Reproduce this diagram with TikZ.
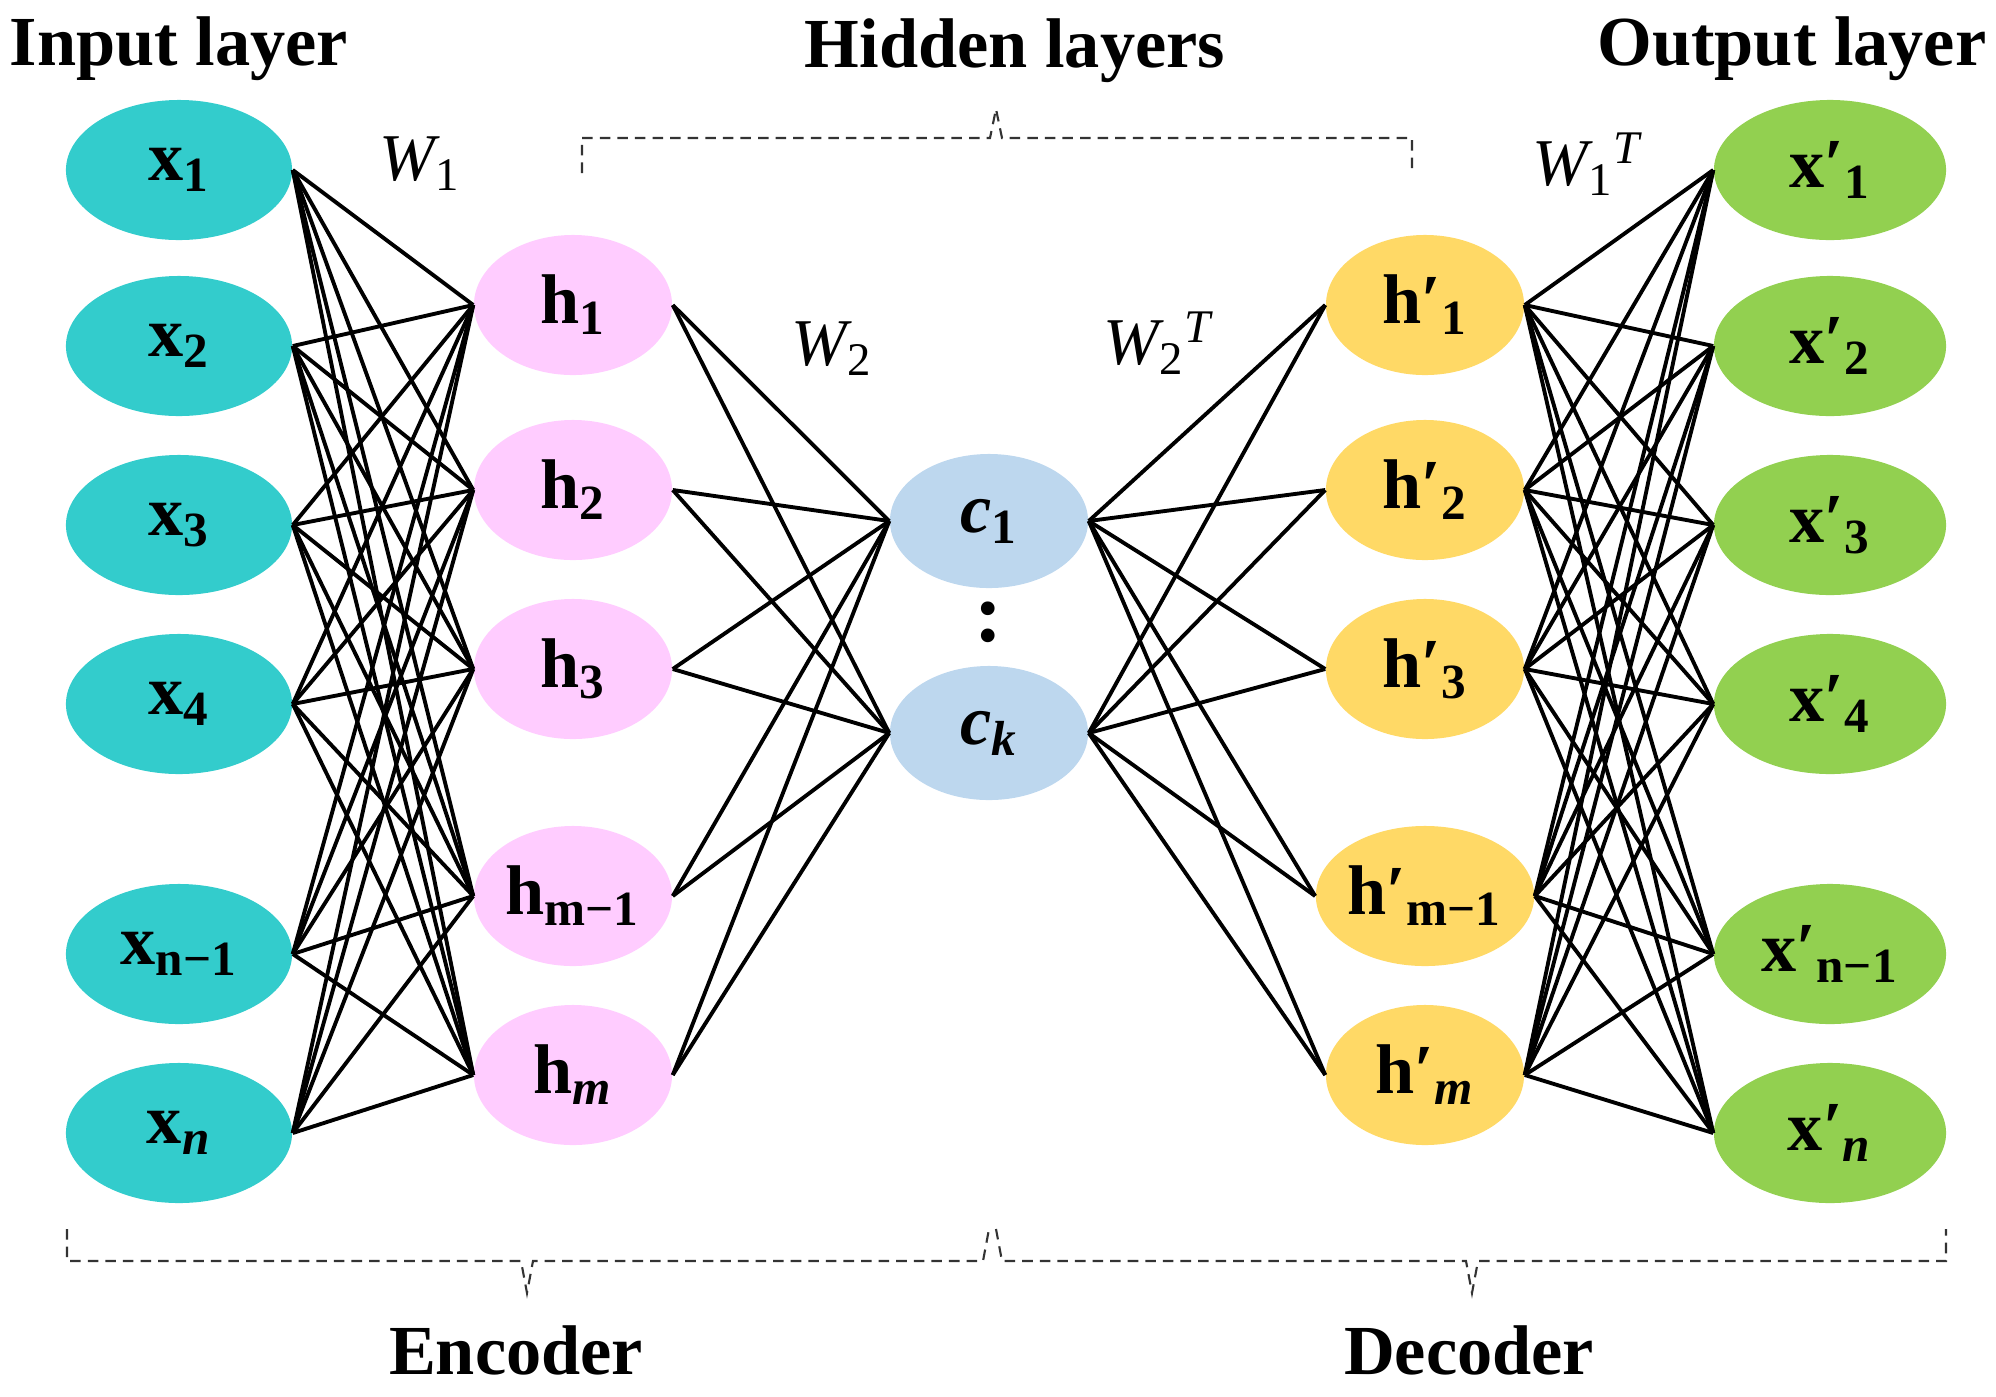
\documentclass[tikz,border=0pt]{standalone}
\usepackage{fontspec}
\setmainfont{Liberation Serif}
\usetikzlibrary{shapes.geometric}
\begin{document}
\begin{tikzpicture}[x=0.01cm,y=-0.01cm,
  nd/.style={ellipse,inner sep=0pt,font=\fontsize{20}{22}\selectfont\bfseries},
  nx/.style={nd,fill=cin,minimum width=2.26cm,minimum height=1.4cm},
  nh/.style={nd,fill=chid,minimum width=1.98cm,minimum height=1.4cm},
  nc/.style={nd,fill=ccode,minimum width=1.98cm,minimum height=1.34cm},
  nhp/.style={nd,fill=cdec,minimum width=1.98cm,minimum height=1.4cm},
  nxp/.style={nd,fill=cout,minimum width=2.32cm,minimum height=1.4cm},
  ttl/.style={font=\fontsize{20}{22}\selectfont\bfseries},
  wl/.style={font=\fontsize{19}{22}\selectfont\itshape},
  ed/.style={line width=1.1pt},
  br/.style={line width=0.6pt,dash pattern=on 3pt off 2pt,draw=black!80}]
\definecolor{cin}{HTML}{33CCCC}
\definecolor{chid}{HTML}{FFCCFF}
\definecolor{ccode}{HTML}{BDD7EE}
\definecolor{cdec}{HTML}{FFD966}
\definecolor{cout}{HTML}{92D050}
\useasboundingbox (0,0) rectangle (1996,1396);
\def\s#1{\textsubscript{\bfseries #1}}
% input
\node[nx] (x1) at (179,170) {x\s{1}};
\node[nx] (x2) at (179,346) {x\s{2}};
\node[nx] (x3) at (179,525) {x\s{3}};
\node[nx] (x4) at (179,704) {x\s{4}};
\node[nx] (x5) at (179,954) {x\s{n−1}};
\node[nx] (x6) at (179,1133) {x\s{\textit{n}}};
% hidden enc
\node[nh] (h1) at (573,305) {h\s{1}};
\node[nh] (h2) at (573,490) {h\s{2}};
\node[nh] (h3) at (573,669) {h\s{3}};
\node[nh] (h4) at (573,896) {h\s{m−1}};
\node[nh] (h5) at (573,1075) {h\s{\textit{m}}};
% code
\node[nc] (c1) at (989,521) {\textit{c}\s{1}};
\node[nc] (c2) at (989,733) {\textit{c}\s{\textit{k}}};
\node[font=\fontsize{24}{24}\selectfont\bfseries] (dots) at (989,622) {:};
% hidden dec
\node[nhp] (g1) at (1425,305) {h′\s{1}};
\node[nhp] (g2) at (1425,490) {h′\s{2}};
\node[nhp] (g3) at (1425,669) {h′\s{3}};
\node[nhp] (g4) at (1425,896) {h′\s{m−1}};
\node[nhp] (g5) at (1425,1075) {h′\s{\textit{m}}};
% output
\node[nxp] (y1) at (1830,170) {x′\s{1}};
\node[nxp] (y2) at (1830,346) {x′\s{2}};
\node[nxp] (y3) at (1830,525) {x′\s{3}};
\node[nxp] (y4) at (1830,704) {x′\s{4}};
\node[nxp] (y5) at (1830,954) {x′\s{n−1}};
\node[nxp] (y6) at (1830,1133) {x′\s{\textit{n}}};
% edges
\foreach \i in {1,...,6}{\foreach \j in {1,...,5}{
  \draw[ed] (x\i.east) -- (h\j.west);
  \draw[ed] (y\i.west) -- (g\j.east);}}
\foreach \j in {1,...,5}{\foreach \k in {1,2}{
  \draw[ed] (h\j.east) -- (c\k.west);
  \draw[ed] (g\j.west) -- (c\k.east);}}
% titles
\node[ttl] (t1) at (179,49) {Input layer};
\node[ttl] (t2) at (1015,51) {Hidden layers};
\node[ttl] (t3) at (1792,49) {Output layer};
\node[ttl] (t4) at (516,1350) {Encoder};
\node[ttl] (t5) at (1469,1350) {Decoder};
\node[wl] (w1) at (420,164) {W\textsubscript{\upshape 1}};
\node[wl] (w2) at (832,349) {W\textsubscript{\upshape 2}};
\node[wl] (w3) at (1158,343) {W\textsubscript{\upshape 2}\textsuperscript{T}};
\node[wl] (w4) at (1587,164) {W\textsubscript{\upshape 1}\textsuperscript{T}};
% braces
\draw[br] (582,173) -- (582,138) -- (990,138) -- (996,109) -- (1002,138) -- (1412,138) -- (1412,173);
\draw[br] (67,1229) -- (67,1261) -- (521,1261) -- (527,1293) -- (533,1261) -- (983,1261) -- (989,1229);
\draw[br] (996,1229) -- (1002,1261) -- (1466,1261) -- (1472,1293) -- (1478,1261) -- (1946,1261) -- (1946,1229);
\end{tikzpicture}
\end{document}
